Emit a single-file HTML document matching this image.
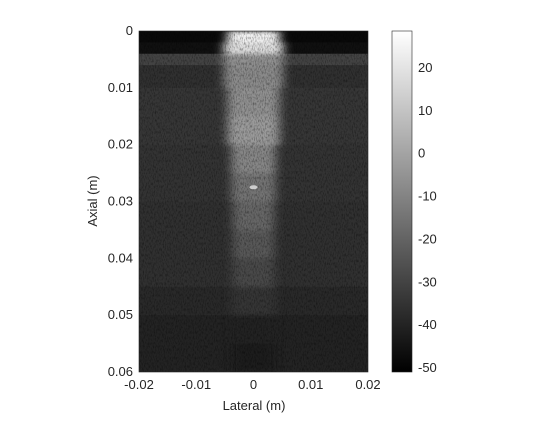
<!DOCTYPE html>
<html><head><meta charset="utf-8"><style>
body{margin:0;background:#fff;width:560px;height:420px;overflow:hidden}
text{font-family:"Liberation Sans",sans-serif;font-size:13px;fill:#262626}
</style></head><body>
<svg width="560" height="420">
<defs>
<filter id="noise" x="0" y="0" width="100%" height="100%">
<feTurbulence type="fractalNoise" baseFrequency="0.9 0.35" numOctaves="2" seed="3"/>
<feColorMatrix values="0 0 0 0 0  0 0 0 0 0  0 0 0 0 0  0 0 0 1.6 -0.7"/>
</filter>
<filter id="soft" x="-20%" y="-5%" width="140%" height="110%"><feGaussianBlur stdDeviation="5 2"/></filter>
<linearGradient id="cbg" x1="0" y1="1" x2="0" y2="0"><stop offset="0" stop-color="#000"/><stop offset="1" stop-color="#fff"/></linearGradient>
<clipPath id="clip"><rect x="139" y="31" width="229" height="341"/></clipPath>
</defs>
<g clip-path="url(#clip)">
<g id="bg"></g><g id="beam" filter="url(#soft)"></g><g id="ov"></g>
</g>
<rect x="139" y="31" width="229" height="341" fill="none" stroke="#262626" stroke-width="0.6"/>
<g id="axes"></g>
<rect x="392" y="31" width="20" height="341" fill="url(#cbg)" stroke="#262626" stroke-width="0.6"/>
<text x="254" y="410" text-anchor="middle" font-size="13">Lateral (m)</text>
<text transform="translate(97,201) rotate(-90)" text-anchor="middle" font-size="13">Axial (m)</text>
</svg>
<script>
const depths=[0,0.002,0.004,0.006,0.01,0.015,0.02,0.025,0.03,0.035,0.04,0.045,0.05,0.055,0.06];
const beamDb=[25,18,-6,-8,-6,-3,-9,-15,-19,-23,-28,-34,-40,-42,-43];
const sideDb=[-48,-46,-30,-36,-34,-34,-35,-35,-36,-36,-36,-38,-40,-40,-41];
const beamHalfWidth=[0.0035,0.004,0.004,0.004,0.0035,0.0035,0.003,0.003,0.0028,0.0028,0.0028,0.003,0.003,0.003,0.003];
const xTicks=[-0.02,-0.01,0,0.01,0.02];
const yTicks=[0,0.01,0.02,0.03,0.04,0.05,0.06];
const cTicks=[20,10,0,-10,-20,-30,-40,-50];
const X=v=>139+(v+0.02)/0.04*229, Y=v=>31+v/0.06*341;
const C=d=>372-(d+50.9)/(28.6+50.9)*341;
const G=d=>{let t=Math.max(0,Math.min(1,(d+50.9)/79.5));let g=Math.round(t*255);return `rgb(${g},${g},${g})`;};
const ns="http://www.w3.org/2000/svg";
const bg=document.getElementById('bg'),bm=document.getElementById('beam'),ov=document.getElementById('ov'),ax=document.getElementById('axes');
function mk(tag,at,par){const e=document.createElementNS(ns,tag);for(const k in at)e.setAttribute(k,at[k]);par.appendChild(e);return e;}
for(let i=0;i<depths.length-1;i++){
 const y0=Y(depths[i]),y1=Y(depths[i+1]);
 const r=mk('rect',{x:139,y:y0,width:229,height:y1-y0+0.5,fill:G(sideDb[i])},bg);
 
 
 const hw=beamHalfWidth[i];
 const b=mk('rect',{x:X(-hw*1.3),y:y0,width:X(hw*1.3)-X(-hw*1.3),height:y1-y0+0.5,fill:G(beamDb[i])},bm);
 
 
}
const nz=mk('rect',{x:139,y:31,width:229,height:341,fill:'#000',filter:'url(#noise)',opacity:0.6},ov);


const pt=mk('ellipse',{cx:X(0),cy:Y(0.0275),rx:4,ry:2,fill:'#ccc'},ov);


xTicks.forEach(v=>{const t=mk('text',{x:X(v),y:389,'text-anchor':'middle'},ax);t.textContent=v;
 });
yTicks.forEach(v=>{const t=mk('text',{x:133,y:Y(v)+4,'text-anchor':'end'},ax);t.textContent=v;
 });
cTicks.forEach(v=>{mk('line',{x1:408,x2:412,y1:C(v),y2:C(v),stroke:'#262626','stroke-width':0.6},ax);
 const t=mk('text',{x:418,y:C(v)+4},ax);t.textContent=v;
 });
</script>
</body></html>
